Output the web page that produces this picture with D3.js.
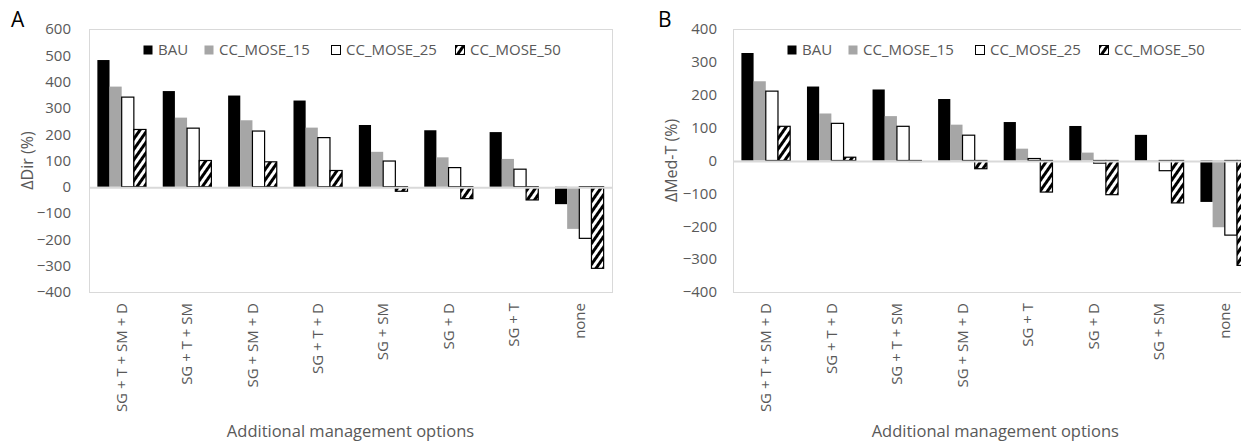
<!DOCTYPE html>
<html>
<head>
<meta charset="utf-8">
<script src="https://cdn.jsdelivr.net/npm/d3@7"></script>
<style>
  body { margin: 0; background: #fff; }
  svg text { font-family: "Open Sans", sans-serif; }
</style>
</head>
<body>
<svg id="chart"></svg>
<script>
const width = 1241;
const height = 446;

const seriesNames = ["BAU", "CC_MOSE_15", "CC_MOSE_25", "CC_MOSE_50"];
const yTicks = [-400, -300, -200, -100, 0, 100, 200, 300, 400, 500, 600];
const yTicksB = [-400, -300, -200, -100, 0, 100, 200, 300, 400];

// panel A - ΔDir
const catsA = ["SG + T + SM + D", "SG + T + SM", "SG + SM + D", "SG + T + D", "SG + SM", "SG + D", "SG + T", "none"];
const dirBAU = [482, 364, 347, 328, 235, 215, 208, -66];
const dirMose15 = [381, 263, 253, 225, 133, 112, 106, -160];
const dirMose25 = [341, 223, 212, 187, 98, 73, 67, -196];
const dirMose50 = [218, 100, 95, 62, -17, -45, -50, -310];

// panel B - ΔMed-T
const catsB = ["SG + T + SM + D", "SG + T + D", "SG + T + SM", "SG + SM + D", "SG + T", "SG + D", "SG + SM", "none"];
const medBAU = [327, 225, 216, 187, 117, 105, 78, -126];
const medMose15 = [241, 143, 135, 109, 36, 24, -2, -203];
const medMose25 = [211, 113, 104, 77, 6, -8, -31, -227];
const medMose50 = [104, 10, -3, -25, -96, -104, -129, -319];

const svg = d3.select("#chart").attr("width", width).attr("height", height);

const defs = svg.append("defs");
const pat = defs.append("pattern").attr("id", "hatch").attr("patternUnits", "userSpaceOnUse")
  .attr("width", 6).attr("height", 6).attr("patternTransform", "rotate(35)");
pat.append("rect").attr("width", 6).attr("height", 6).attr("fill", "#fff");
pat.append("rect").attr("width", 3).attr("height", 6).attr("fill", "#000");

const fills = { "BAU": "#000", "CC_MOSE_15": "#a6a6a6", "CC_MOSE_25": "#fff", "CC_MOSE_50": "url(#hatch)" };
const strokes = { "BAU": "none", "CC_MOSE_15": "none", "CC_MOSE_25": "#000", "CC_MOSE_50": "#000" };

function drawPanel(opts) {
  const g = svg.append("g");
  const left = opts.left, right = opts.right, top = 29, bottom = 292;

  const x0 = d3.scaleBand().domain(opts.cats).range([left, right]).paddingInner(0.256).paddingOuter(0.128);
  const x1 = d3.scaleBand().domain(seriesNames).range([0, x0.bandwidth()]);
  const y = d3.scaleLinear().domain(opts.domain).range([bottom, top]);

  // plot frame
  g.append("rect").attr("x", left + 0.5).attr("y", top + 0.5).attr("width", right - left).attr("height", bottom - top)
    .attr("fill", "none").attr("stroke", "#d9d9d9");

  const rows = opts.cats.map((c, i) => ({ cat: c, vals: seriesNames.map((s, k) => ({ s: s, v: opts.values[k][i] })) }));

  const groups = g.selectAll(".grp").data(rows).enter().append("g")
    .attr("transform", d => `translate(${x0(d.cat)},0)`);
  groups.selectAll("rect").data(d => d.vals).enter().append("rect")
    .attr("x", d => x1(d.s))
    .attr("y", d => y(Math.max(0, d.v)))
    .attr("width", x1.bandwidth())
    .attr("height", d => Math.abs(y(d.v) - y(0)))
    .attr("fill", d => fills[d.s])
    .attr("stroke", d => strokes[d.s])
    .attr("stroke-width", 1.2);

  // zero line
  g.append("line").attr("x1", left).attr("x2", right).attr("y1", y(0) + 1).attr("y2", y(0) + 1)
    .attr("stroke", "#d9d9d9").attr("stroke-width", 2);

  // y axis
  const yAxis = d3.axisLeft(y).tickValues(opts.ticks).tickSize(0).tickPadding(opts.tickPad);
  const ya = g.append("g").attr("transform", `translate(${left},0)`).call(yAxis);
  ya.select(".domain").remove();
  ya.attr("font-size", null).attr("font-family", null);
  ya.selectAll("text").attr("fill", "#595959").style("font-size", "15px");

  // x axis labels
  const xa = g.append("g").attr("transform", `translate(0,${bottom})`)
    .call(d3.axisBottom(x0).tickSize(0));
  xa.select(".domain").remove();
  xa.attr("font-size", null).attr("font-family", null);
  xa.selectAll("text")
    .attr("fill", "#595959").style("font-size", "15px")
    .attr("transform", "rotate(-90)")
    .attr("text-anchor", "end")
    .attr("x", -11).attr("y", 0).attr("dy", "0.35em");

  // axis titles
  g.append("text").attr("x", (left + right) / 2).attr("y", 437).attr("text-anchor", "middle")
    .attr("fill", "#595959").style("font-size", "16.5px").text("Additional management options");
  g.append("text").attr("transform", `translate(${opts.yTitleX},${(top + bottom) / 2}) rotate(-90)`)
    .attr("text-anchor", "middle").attr("fill", "#595959").style("font-size", "16px").text(opts.yTitle);

  // panel letter
  g.append("text").attr("x", opts.letterX).attr("y", 27).attr("fill", "#000").style("font-size", "21px").text(opts.letter);

  // legend
  const lg = g.append("g").attr("transform", `translate(${left + 54},${45})`);
  const offs = [0, 61, 188, 312];
  const items = lg.selectAll("g").data(seriesNames).enter().append("g")
    .attr("transform", (d, i) => `translate(${offs[i]},0)`);
  items.append("rect").attr("x", 0.5).attr("y", 0.5).attr("width", 9).attr("height", 9)
    .attr("fill", d => fills[d]).attr("stroke", d => strokes[d]);
  items.append("text").attr("x", 15).attr("y", 5).attr("dy", "0.35em")
    .attr("fill", "#595959").style("font-size", "15px").text(d => d);
}

drawPanel({
  cats: catsA, values: [dirBAU, dirMose15, dirMose25, dirMose50],
  domain: [-400, 600], ticks: yTicks, left: 89, right: 612, tickPad: 18,
  yTitle: "ΔDir (%)", yTitleX: 33, letter: "A", letterX: 11
});

drawPanel({
  cats: catsB, values: [medBAU, medMose15, medMose25, medMose50],
  domain: [-400, 400], ticks: yTicksB, left: 733, right: 1257.6, tickPad: 16,
  yTitle: "ΔMed-T (%)", yTitleX: 677, letter: "B", letterX: 658
});
</script>
</body>
</html>
